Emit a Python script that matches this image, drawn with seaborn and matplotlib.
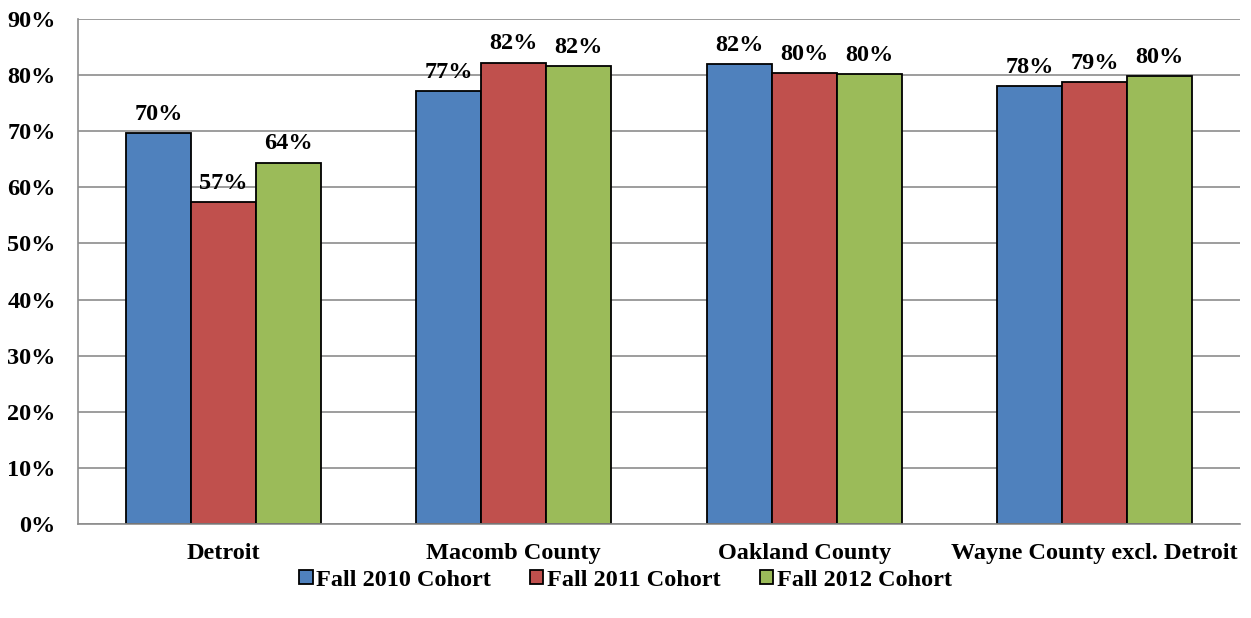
import matplotlib
matplotlib.use("Agg")
import matplotlib.pyplot as plt
import seaborn as sns
import pandas as pd
import numpy as np
from matplotlib.ticker import FixedLocator, NullFormatter

categories = ["Detroit", "Macomb County", "Oakland County", "Wayne County excl. Detroit"]
series_names = ["Fall 2010 Cohort", "Fall 2011 Cohort", "Fall 2012 Cohort"]
fall_2010 = [69.6, 77.1, 81.9, 78.0]
fall_2011 = [57.3, 82.2, 80.4, 78.8]
fall_2012 = [64.4, 81.6, 80.2, 79.8]
colors = ["#4F81BD", "#C0504D", "#9BBB59"]
y_ticks = [0, 10, 20, 30, 40, 50, 60, 70, 80, 90]

rows = []
for name, vals in zip(series_names, [fall_2010, fall_2011, fall_2012]):
    for c, v in zip(categories, vals):
        rows.append({"category": c, "series": name, "value": v})
df = pd.DataFrame(rows)

sns.set_style("white")
plt.rcParams["font.family"] = ["Liberation Serif", "DejaVu Serif"]
plt.rcParams["font.weight"] = "bold"
plt.rcParams["text.color"] = "black"
plt.rcParams["xtick.color"] = "black"
plt.rcParams["ytick.color"] = "black"

FS = 17.5

fig = plt.figure(figsize=(12.51, 6.18), dpi=100)
ax = fig.add_axes([78 / 1251, 1 - 524 / 618, (1240 - 78) / 1251, (524 - 19) / 618])

sns.barplot(data=df, x="category", y="value", hue="series", order=categories,
            hue_order=series_names, palette=colors, width=0.67, ax=ax,
            edgecolor="black", linewidth=1.3, saturation=1, legend=True, errorbar=None)

for cont in ax.containers:
    labels = [f"{round(b.get_height()):.0f}%" for b in cont]
    ax.bar_label(cont, labels=labels, padding=6, fontsize=FS, fontweight="bold", color="black")

ax.set_ylim(0, 90)
ax.set_xlim(-0.5, len(categories) - 0.5)
ax.set_yticks(y_ticks)
ax.set_yticklabels([f"{t}%" for t in y_ticks], fontsize=FS, fontweight="bold")
ax.yaxis.grid(True, color="#8C8C8C", linewidth=1.2)
ax.set_axisbelow(True)
ax.set_xlabel("")
ax.set_ylabel("")
ax.tick_params(axis="x", which="major", length=0, labelsize=FS, pad=14, labelcolor="black")
for lab in ax.get_xticklabels():
    lab.set_fontweight("bold")
ax.xaxis.set_minor_locator(FixedLocator(np.arange(-0.5, len(categories) + 0.5, 1.0)))
ax.xaxis.set_minor_formatter(NullFormatter())
ax.tick_params(axis="x", which="minor", length=6, color="#8C8C8C", width=1.2, direction="out")
ax.tick_params(axis="y", length=6, color="#8C8C8C", width=1.2, direction="out", pad=10,
               labelcolor="black")

for s in ["top", "right"]:
    ax.spines[s].set_visible(False)
for s in ["left", "bottom"]:
    ax.spines[s].set_color("#8C8C8C")
    ax.spines[s].set_linewidth(1.2)

handles, labels = ax.get_legend_handles_labels()
ax.legend_.remove()
fig.legend(handles, labels, loc="center", bbox_to_anchor=(0.5, 1 - 580 / 618), ncol=3,
           frameon=False, handlelength=0.55, handleheight=0.55,
           handletextpad=0.15, columnspacing=1.6, prop={"weight": "bold", "size": FS})

fig.savefig("out.png", dpi=100)
